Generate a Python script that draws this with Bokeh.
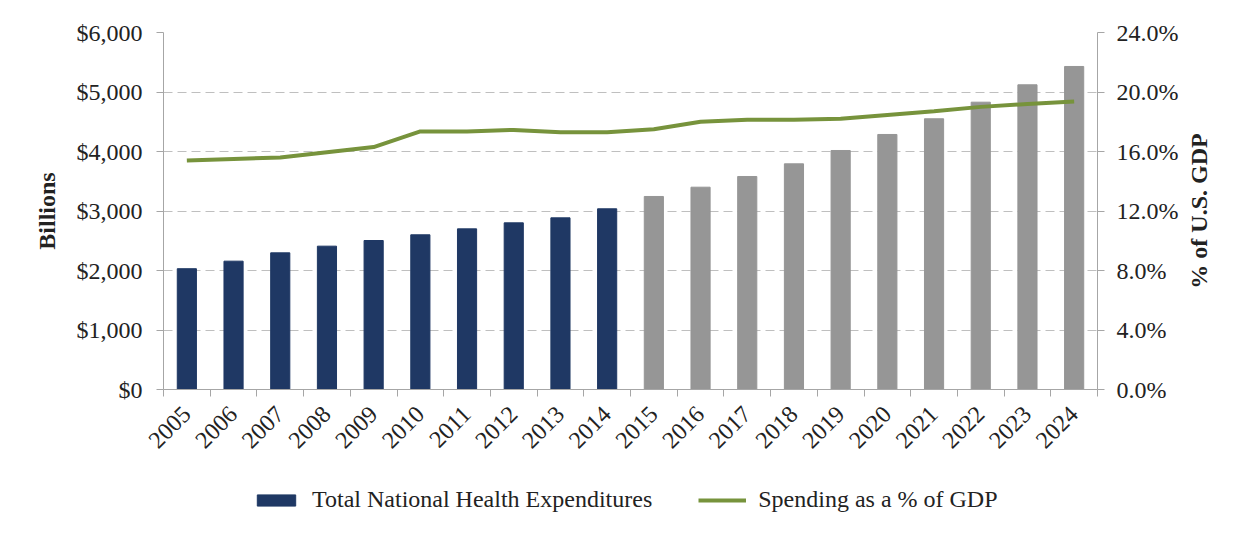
from math import pi
from bokeh.plotting import figure
from bokeh.layouts import column, row
from bokeh.models import (Range1d, LinearAxis, FixedTicker, NumeralTickFormatter,
                          PrintfTickFormatter, Legend, LegendItem, ColumnDataSource, Title)
from bokeh.embed import file_html
from bokeh.resources import INLINE

# ---- data ----
years = ["2005", "2006", "2007", "2008", "2009", "2010", "2011", "2012", "2013", "2014",
         "2015", "2016", "2017", "2018", "2019", "2020", "2021", "2022", "2023", "2024"]
health_spending = [2030, 2157, 2297, 2409, 2504, 2600, 2700, 2801, 2885, 3037,
                   3244, 3400, 3580, 3793, 4017, 4286, 4550, 4829, 5121, 5429]
pct_of_gdp = [15.4, 15.5, 15.6, 15.95, 16.3, 17.35, 17.35, 17.45, 17.3, 17.3,
              17.5, 18.0, 18.13, 18.13, 18.2, 18.45, 18.7, 19.0, 19.2, 19.36]
is_projected = [False] * 10 + [True] * 10
left_ticks = [0, 1000, 2000, 3000, 4000, 5000, 6000]
right_ticks = [0, 4, 8, 12, 16, 20, 24]
bar_label = "Total National Health Expenditures"
line_label = "Spending as a % of GDP"
left_title = "Billions"
right_title = "% of U.S. GDP"

NAVY = "#1F3864"
GRAY = "#969696"
GREEN = "#77933C"
AXIS = "#a6a6a6"
TEXT = "#222222"
FONT = "Liberation Serif"
FS = "24px"

xpos = list(range(len(years)))
src = ColumnDataSource(dict(
    x=xpos, spend=health_spending, pct=pct_of_gdp,
    color=[GRAY if p else NAVY for p in is_projected],
))

p = figure(width=1182, height=460, output_backend="svg", toolbar_location=None,
           x_range=Range1d(-0.5, len(years) - 0.5), y_range=Range1d(0, 6000),
           min_border_left=163, min_border_right=85, min_border_top=32,
           min_border_bottom=71)
p.outline_line_color = None
p.extra_y_ranges = {"pct": Range1d(0, 24)}

bars = p.vbar(x="x", top="spend", width=0.41, color="color", source=src)
line = p.line(x="x", y="pct", y_range_name="pct", line_color=GREEN, line_width=4,
              source=src)

# grid
p.xgrid.grid_line_color = None
p.ygrid.grid_line_color = "#bfbfbf"
p.ygrid.grid_line_dash = "9 5"
p.ygrid.grid_line_width = 1

def style_axis(ax):
    ax.axis_line_color = AXIS
    ax.major_tick_line_color = AXIS
    ax.major_tick_in = 0
    ax.major_tick_out = 7
    ax.minor_tick_line_color = None
    ax.major_label_text_font = FONT
    ax.major_label_text_font_size = FS
    ax.major_label_text_color = TEXT
    ax.axis_label_text_font = FONT
    ax.axis_label_text_font_size = FS
    ax.axis_label_text_font_style = "bold"
    ax.axis_label_text_color = TEXT

# left axis
yl = p.yaxis[0]
style_axis(yl)
yl.ticker = FixedTicker(ticks=left_ticks)
yl.formatter = NumeralTickFormatter(format="$0,0")
yl.axis_label = left_title
yl.major_label_standoff = 14
yl.axis_label_standoff = 14

# right axis (its title is drawn in the narrow strip to the right)
yr = LinearAxis(y_range_name="pct", ticker=FixedTicker(ticks=right_ticks),
                formatter=PrintfTickFormatter(format="%.1f%%"))
style_axis(yr)
yr.major_label_standoff = 12
p.add_layout(yr, "right")

# x axis
xa = p.xaxis[0]
style_axis(xa)
xa.ticker = FixedTicker(ticks=xpos, minor_ticks=[i - 0.5 for i in range(len(years) + 1)])
xa.major_label_overrides = {i: y for i, y in enumerate(years)}
xa.major_tick_line_color = None
xa.minor_tick_line_color = AXIS
xa.minor_tick_in = 0
xa.minor_tick_out = 7
xa.major_label_orientation = pi / 4
xa.major_label_standoff = 14

# ---- right-hand title strip (vertical text reading bottom-to-top) ----
side = figure(width=43, height=460, output_backend="svg", toolbar_location=None,
              x_range=Range1d(0, 1), y_range=Range1d(0, 1),
              min_border_left=0, min_border_right=0, min_border_top=32,
              min_border_bottom=71)
side.axis.visible = False
side.grid.visible = False
side.outline_line_color = None
side.add_layout(Title(text=right_title, align="center", text_font=FONT,
                      text_font_size=FS, text_font_style="bold", text_color=TEXT,
                      standoff=2), "left")

# ---- legend strip (separate small figure below the chart) ----
lg = figure(width=1225, height=57, output_backend="svg", toolbar_location=None,
            x_range=Range1d(-0.5, len(years) - 0.5), y_range=Range1d(0, 6000),
            min_border_left=163, min_border_right=128, min_border_top=0,
            min_border_bottom=0)
lg.axis.visible = False
lg.grid.visible = False
lg.outline_line_color = None
bar_key = lg.vbar(x="x", top="spend", width=0.41, color="color", source=src, visible=False)
line_key = lg.line(x="x", y="spend", line_color=GREEN, line_width=4, source=src,
                   visible=False)

legend = Legend(items=[
    LegendItem(label=bar_label, renderers=[bar_key], index=0),
    LegendItem(label=line_label, renderers=[line_key]),
], orientation="horizontal", location=(89, 4))
legend.label_text_font = FONT
legend.label_text_font_size = FS
legend.label_text_color = TEXT
legend.border_line_color = None
legend.background_fill_alpha = 0
legend.glyph_width = 48
legend.glyph_height = 14
legend.spacing = 46
legend.label_standoff = 12
legend.padding = 5
legend.margin = 0
legend.click_policy = "none"
lg.add_layout(legend, "center")

layout = column(row(p, side, spacing=0), lg, spacing=0)
open("out.html", "w").write(file_html(layout, INLINE))
